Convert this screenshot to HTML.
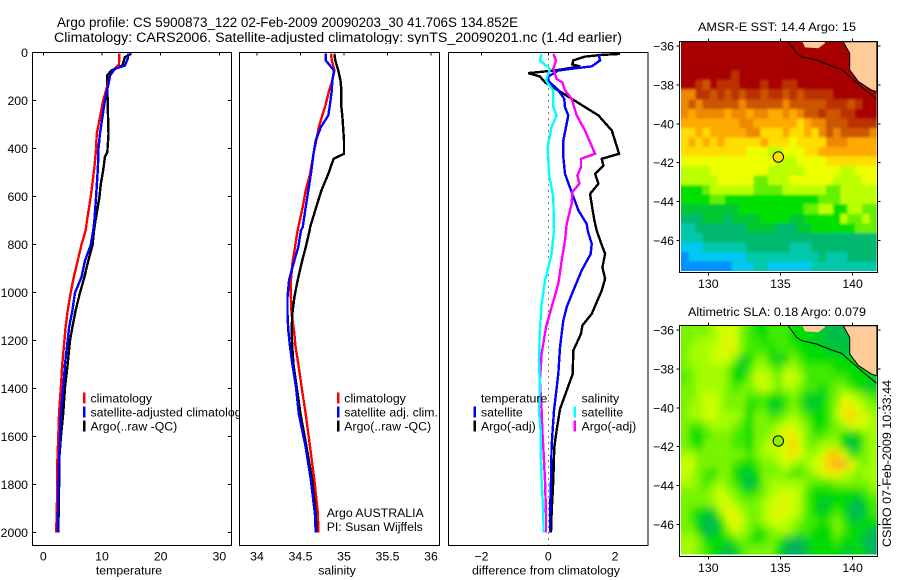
<!DOCTYPE html>
<html>
<head>
<meta charset="utf-8">
<title>Argo profile</title>
<style>
html,body{margin:0;padding:0;background:#fff;}
svg{display:block;}
text{font-family:"Liberation Sans",sans-serif;font-size:12.3px;fill:#000;}
</style>
</head>
<body>
<svg id="chart" xmlns="http://www.w3.org/2000/svg" width="900" height="580" viewBox="0 0 900 580">
<defs>
<filter id="blurSst" filterUnits="userSpaceOnUse" x="650" y="20" width="250" height="270"><feGaussianBlur stdDeviation="1.2 1.4"/></filter>
<filter id="blurSla" filterUnits="userSpaceOnUse" x="650" y="300" width="250" height="270"><feGaussianBlur stdDeviation="3.2 4.2"/></filter>
<clipPath id="clipSst"><rect x="681" y="42" width="195.7" height="229"/></clipPath>
<clipPath id="clipSla"><rect x="681" y="326" width="195.7" height="228.5"/></clipPath>
</defs>
<rect x="0" y="0" width="900" height="580" fill="#fff"/>
<text x="57" y="27" style="font-size:13.5px" textLength="461" lengthAdjust="spacingAndGlyphs">Argo profile: CS 5900873_122 02-Feb-2009 20090203_30 41.706S 134.852E</text>
<text x="54" y="42" style="font-size:13.5px" textLength="568" lengthAdjust="spacingAndGlyphs">Climatology: CARS2006. Satellite-adjusted climatology: synTS_20090201.nc (1.4d earlier)</text>
<text x="129" y="574.5" text-anchor="middle">temperature</text>
<text x="337" y="574.5" text-anchor="middle">salinity</text>
<text x="546" y="574.5" text-anchor="middle" textLength="148" lengthAdjust="spacingAndGlyphs">difference from climatology</text>
<text x="777" y="31" text-anchor="middle" textLength="158" lengthAdjust="spacingAndGlyphs">AMSR-E SST: 14.4 Argo: 15</text>
<text x="777" y="316" text-anchor="middle" textLength="178" lengthAdjust="spacingAndGlyphs">Altimetric SLA: 0.18 Argo: 0.079</text>
<text transform="translate(891,547) rotate(-90)" textLength="167" lengthAdjust="spacingAndGlyphs">CSIRO 07-Feb-2009 10:33:44</text>
<g id="layer"></g>
</svg>
<script>
/* ---- profile data ---- */
const tempTicks = [0, 10, 20, 30];
const salTicks = [34, 34.5, 35, 35.5, 36];
const salTickLabels = ['34', '34.5', '35', '35.5', '36'];
const diffTicks = [-2, 0, 2];
const diffTickLabels = ['\u22122', '0', '2'];
const depthTicks = [0, 200, 400, 600, 800, 1000, 1200, 1400, 1600, 1800, 2000];

const tempClimDepth = [5, 50, 68, 95, 200, 340, 400, 478, 600, 700, 742, 801, 867, 936, 1001, 1075, 1144, 1200, 1297, 1394, 1500, 1600, 1700, 1800, 2000];
const tempClimValue = [12.95, 12.9, 12.2, 11.4, 10.2, 9.1, 9.0, 8.7, 8.1, 7.45, 7.2, 6.5, 5.86, 5.2, 4.66, 4.15, 3.8, 3.6, 3.24, 3.0, 2.7, 2.55, 2.4, 2.4, 2.2];
const tempSatDepth = [5, 25, 54, 68, 95, 130, 200, 340, 400, 478, 600, 700, 742, 801, 867, 936, 1001, 1075, 1144, 1200, 1297, 1394, 1500, 1600, 1700, 1800, 2000];
const tempSatValue = [14.5, 14.4, 13.9, 12.2, 11.4, 11.1, 10.5, 9.65, 9.4, 9.3, 9.0, 8.7, 8.5, 8.1, 7.1, 6.5, 5.4, 4.95, 4.4, 4.15, 3.7, 3.4, 3.0, 2.85, 2.7, 2.55, 2.45];
const tempArgoDepth = [5, 19, 54, 75, 95, 200, 340, 415, 436, 491, 548, 603, 700, 742, 801, 867, 936, 1001, 1075, 1144, 1200, 1297, 1394, 1500, 1600, 1700, 1800, 2000];
const tempArgoValue = [15.0, 13.9, 13.5, 11.6, 10.9, 10.95, 11.1, 10.9, 10.5, 10.2, 9.8, 9.55, 8.9, 8.64, 8.4, 7.67, 7.0, 6.25, 5.5, 4.95, 4.55, 4.15, 3.7, 3.4, 3.0, 2.7, 2.7, 2.55];

const salClimDepth = [5, 33, 75, 117, 158, 228, 262, 311, 367, 422, 506, 575, 644, 728, 742, 811, 881, 950, 1019, 1089, 1158, 1228, 1297, 1394, 1506, 1644, 1783, 1922, 2000];
const salClimValue = [34.85, 34.86, 34.89, 34.865, 34.83, 34.78, 34.75, 34.71, 34.68, 34.65, 34.61, 34.56, 34.525, 34.475, 34.467, 34.437, 34.406, 34.39, 34.39, 34.398, 34.425, 34.444, 34.475, 34.513, 34.56, 34.61, 34.66, 34.7, 34.705];
const salSatDepth = [5, 33, 75, 117, 158, 228, 262, 311, 367, 422, 506, 575, 644, 728, 742, 811, 881, 950, 1019, 1089, 1158, 1228, 1297, 1394, 1506, 1644, 1783, 1922, 2000];
const salSatValue = [34.79, 34.79, 34.885, 34.865, 34.86, 34.835, 34.82, 34.735, 34.675, 34.65, 34.62, 34.59, 34.56, 34.525, 34.505, 34.475, 34.418, 34.368, 34.35, 34.35, 34.36, 34.38, 34.406, 34.448, 34.48, 34.56, 34.62, 34.665, 34.675];
const salArgoDepth = [5, 33, 75, 117, 158, 228, 262, 311, 367, 422, 443, 506, 575, 644, 728, 742, 811, 881, 950, 1019, 1089, 1158, 1228, 1297, 1394, 1506, 1644, 1783, 1922, 2000];
const salArgoValue = [34.89, 34.9, 34.935, 34.96, 34.97, 34.97, 34.98, 34.99, 35.0, 35.0, 34.88, 34.82, 34.74, 34.68, 34.61, 34.605, 34.56, 34.51, 34.467, 34.43, 34.406, 34.398, 34.406, 34.418, 34.456, 34.5, 34.57, 34.635, 34.675, 34.685];

const diffTempArgoDepth = [6, 10, 17, 33, 50, 58, 75, 86, 100, 124, 193, 262, 325, 422, 443, 471, 506, 547, 589, 700, 742, 783, 839, 894, 943, 992, 1089, 1137, 1172, 1242, 1339, 1486, 1575, 1644, 1783, 1922, 2000];
const diffTempArgoValue = [2.15, 1.6, 1.1, 0.75, 0.72, 0.95, 0.2, -0.6, -0.25, -0.1, 0.7, 1.5, 1.9, 2.12, 1.6, 1.65, 1.4, 1.5, 1.25, 1.38, 1.45, 1.55, 1.7, 1.62, 1.7, 1.6, 1.3, 1.02, 0.98, 0.75, 0.73, 0.35, 0.25, 0.18, 0.15, 0.1, 0.08];
const diffTempSatDepth = [6, 33, 58, 64, 75, 100, 117, 158, 193, 228, 262, 367, 436, 506, 582, 658, 714, 742, 797, 839, 908, 992, 1061, 1117, 1228, 1339, 1492, 1575, 1644, 1783, 1922, 2000];
const diffTempSatValue = [1.5, 1.55, 1.3, 0.9, 0.3, 0, 0, 0.3, 0.48, 0.5, 0.6, 0.45, 0.45, 0.5, 0.7, 0.9, 1.15, 1.18, 1.3, 1.27, 1.0, 0.75, 0.55, 0.45, 0.35, 0.3, 0.17, 0.13, 0.1, 0.08, 0.05, 0.05];
const diffSalSatDepth = [6, 33, 68, 117, 158, 228, 262, 311, 394, 506, 603, 742, 839, 950, 1047, 1158, 1283, 1381, 1492, 1575, 1644, 1783, 1922, 2000];
const diffSalSatValue = [-0.2, -0.25, 0.05, -0.07, 0.15, 0.15, 0.25, 0.1, -0.02, 0.02, 0.15, 0.17, 0.1, -0.1, -0.2, -0.25, -0.28, -0.25, -0.28, -0.23, -0.23, -0.2, -0.15, -0.14];
const diffSalArgoDepth = [6, 33, 68, 110, 124, 158, 193, 262, 325, 422, 443, 478, 512, 547, 582, 631, 714, 783, 867, 964, 1061, 1144, 1256, 1367, 1492, 1575, 1644, 1783, 1922, 2000];
const diffSalArgoValue = [0.15, 0.23, 0.15, 0.25, 0.42, 0.5, 0.7, 0.85, 1.1, 1.4, 0.98, 0.98, 0.87, 0.93, 0.72, 0.7, 0.55, 0.5, 0.4, 0.3, 0.1, -0.07, -0.2, -0.25, -0.2, -0.18, -0.15, -0.1, -0.07, -0.07];

/* ---- map data (0.5 degree cells, one character per cell, level index) ---- */
const sstRows = [
"eeeeeeeeeeeeeeeeeeeeeeeeeee",
"eeeeeeeeeeeeeeeeeeeeeeeeeee",
"eeeeeeeeeeeeeeeeeeeeeeeeeee",
"eeeeeeedeeeeeeeeeeeeeeeeeee",
"eedcedddeeedeeddeeeeeeeeeee",
"bbddcdcdcddcddcdcddddeeeeee",
"bcbcccccbcccccbcccccdddcdee",
"babbbbabbabbaababccdccddeee",
"aaaaaaaabbaaaaaa9abbcccdddd",
"99a9aaaaabb999a99a9bcbccccb",
"9a9a9a99999a99989999bbbaaaa",
"9999999998887788899aaaaaaaa",
"888888888888877788889999999",
"777788888888777778888877888",
"777778888866777888888777788",
"555677777766667777776677777",
"555566555555555555566677777",
"444444445555555556677557766",
"333444344445555445555576676",
"223333333444433344555555666",
"222333333333333333333333333",
"111222222333333222333333333",
"011111111222222222232223333",
"000000011122111111222222222"
];
const sstColors = ["#0090ff","#00c8f0","#00c8a8","#00b870","#00c830","#00e000","#66f000","#bbff00","#eeff00","#ffdd00","#ffaa00","#ee8800","#cc5500","#bb3300","#a80000"];

const slaRows = [
"555567775433444333221112333",
"556667875443444333221112333",
"566677875444344433332212333",
"566677752355323543333333333",
"556666532466546654444333333",
"456666533577657764444443332",
"556666545567656654434554322",
"556776555444334542224577654",
"566776555344224542234688765",
"566776665355445654334689876",
"544566654355567765334567776",
"533455544355678875445532356",
"543555544356777975566631256",
"665555555456678876679974456",
"775555543345567656789aa8656",
"765435532235555445678876566",
"665456542125666665444555556",
"555567654345677764333333345",
"555567765556778764322332134",
"543226876556787764323431024",
"542113787556777654434542233",
"553113576534566544333543321",
"665333345434542112333433210",
"665432124555531002333322320"
];
const slaColors = ["#00b068","#00bc48","#00cc28","#00dc00","#40ea00","#78f400","#a4fc00","#ccff00","#eeee00","#ffcc00","#ffaa20"];

const coastLon = [135.54, 136.12, 136.47, 137.5, 138.66, 139.24, 139.93, 140.74, 141.66];
const coastLat = [-35.78, -36.38, -36.55, -36.72, -37.06, -37.2, -37.66, -38.18, -38.74];
const landLon = [139.35, 139.8, 139.8, 140.4, 141.3, 141.66, 141.66];
const landLat = [-35.78, -36.38, -37.23, -37.83, -38.26, -38.35, -35.78];
const islandLon = [136.53, 136.7, 137.62, 138.08, 138.08];
const islandLat = [-35.78, -36.07, -36.12, -35.86, -35.78];
const floatLon = 134.852;
const floatLat = -41.706;
const lonTicks = [130, 135, 140];
const latTicks = [-36, -38, -40, -42, -44, -46];

/* ---- drawing ---- */
const NS = 'http://www.w3.org/2000/svg';
const layer = document.getElementById('layer');
function mk(tag, attrs, parent) {
  const el = document.createElementNS(NS, tag);
  for (const k in attrs) el.setAttribute(k, attrs[k]);
  (parent || layer).appendChild(el);
  return el;
}
const yDepth = d => 52.5 + 0.24 * d;

function seg(x1, y1, x2, y2, parent, name) {
  const el = mk('line', {x1: x1, y1: y1, x2: x2, y2: y2, stroke: '#000', 'stroke-width': 1, 'shape-rendering': 'crispEdges'}, parent);
  
  
  return el;
}
function label(str, x, y, anchor, name, parent) {
  const el = mk('text', {x: x, y: y, 'text-anchor': anchor}, parent);
  el.textContent = str;
  
  
  return el;
}
function profile(depths, values, xf, color, name, parent) {
  const pts = depths.map((d, i) => xf(values[i]).toFixed(1) + ',' + yDepth(d).toFixed(1)).join(' ');
  const el = mk('polyline', {points: pts, fill: 'none', stroke: color, 'stroke-width': 2.4, 'stroke-linejoin': 'miter', 'shape-rendering': 'crispEdges'}, parent);
  
  
}
function frame(x, y, w, h, parent, name) {
  const el = mk('rect', {x: x, y: y, width: w, height: h, fill: 'none', stroke: '#000', 'stroke-width': 1, 'shape-rendering': 'crispEdges'}, parent);
  
  
}
function swatch(x, y, color, parent, name) {
  const el = mk('rect', {x: x, y: y, width: 2.5, height: 11, fill: color}, parent);
  
  
}

const PY0 = 52.5, PY1 = 545.5;

/* temperature panel */
const xT = v => 43.3 + 5.87 * v;
const gT = mk('g', {});


tempTicks.forEach(v => {
  seg(xT(v), PY0, xT(v), PY0 + 3, gT, 'temperature-tick');
  label(String(v), xT(v), 560.5, 'middle', 'temperature-tick-label', gT);
});
depthTicks.forEach(d => {
  seg(32.5, yDepth(d), 36, yDepth(d), gT, 'depth-tick-left');
  seg(228, yDepth(d), 231.5, yDepth(d), gT, 'depth-tick-right');
  label(String(d), 28, yDepth(d) + 4.5, 'end', 'depth-tick-label', gT);
});
profile(tempArgoDepth, tempArgoValue, xT, '#000', 'temperature-argo-line', gT);
profile(tempClimDepth, tempClimValue, xT, '#ff0000', 'temperature-climatology-line', gT);
profile(tempSatDepth, tempSatValue, xT, '#0000ff', 'temperature-satellite-line', gT);
swatch(83, 392.5, '#ff0000', gT, 'legend-swatch-climatology');
swatch(83, 406.5, '#0000ff', gT, 'legend-swatch-satellite');
swatch(83, 420.5, '#000', gT, 'legend-swatch-argo');
label('climatology', 90.5, 402.5, 'start', 'legend-entry-climatology', gT);
label('satellite-adjusted climatology', 90.5, 416.5, 'start', 'legend-entry-satellite', gT);
label('Argo(..raw -QC)', 90.5, 430.5, 'start', 'legend-entry-argo', gT);

/* salinity panel */
const cover = mk('rect', {x: 239, y: 44, width: 201, height: 510, fill: '#fff'});


frame(32.5, PY0, 199, 493, gT, 'temperature-frame');

const xS = v => 257 + 87 * (v - 34);
const gS = mk('g', {});


salTicks.forEach((v, i) => {
  seg(xS(v), PY0, xS(v), PY0 + 3, gS, 'salinity-tick');
  label(salTickLabels[i], xS(v), 560.5, 'middle', 'salinity-tick-label', gS);
});
profile(salClimDepth, salClimValue, xS, '#ff0000', 'salinity-climatology-line', gS);
profile(salArgoDepth, salArgoValue, xS, '#000', 'salinity-argo-line', gS);
profile(salSatDepth, salSatValue, xS, '#0000ff', 'salinity-satellite-line', gS);
frame(239.5, PY0, 200, 493, gS, 'salinity-frame');
swatch(337, 392.5, '#ff0000', gS, 'legend-swatch-climatology');
swatch(337, 406.5, '#0000ff', gS, 'legend-swatch-satellite');
swatch(337, 420.5, '#000', gS, 'legend-swatch-argo');
label('climatology', 344.3, 402.5, 'start', 'legend-entry-climatology', gS);
label('satellite adj. clim.', 344.3, 416.5, 'start', 'legend-entry-satellite', gS);
label('Argo(..raw -QC)', 344.3, 430.5, 'start', 'legend-entry-argo', gS);
label('Argo AUSTRALIA', 326.7, 517, 'start', 'operator-label', gS);
label('PI: Susan Wijffels', 326.7, 531, 'start', 'investigator-label', gS);

/* difference panel */
const xD = v => 548.3 + 33.4 * v;
const gD = mk('g', {});


diffTicks.forEach((v, i) => {
  seg(xD(v), PY0, xD(v), PY0 + 3, gD, 'difference-tick');
  label(diffTickLabels[i], xD(v), 560.5, 'middle', 'difference-tick-label', gD);
});
const zero = mk('line', {x1: xD(0), y1: PY0, x2: xD(0), y2: PY1, stroke: '#000', 'stroke-width': 1, 'stroke-dasharray': '1 5', 'shape-rendering': 'crispEdges'}, gD);


profile(diffTempArgoDepth, diffTempArgoValue, xD, '#000', 'difference-temperature-argo-line', gD);
profile(diffTempSatDepth, diffTempSatValue, xD, '#0000ff', 'difference-temperature-satellite-line', gD);
profile(diffSalArgoDepth, diffSalArgoValue, xD, '#ff00ff', 'difference-salinity-argo-line', gD);
profile(diffSalSatDepth, diffSalSatValue, xD, '#00ffff', 'difference-salinity-satellite-line', gD);
frame(448.5, PY0, 199.5, 493, gD, 'difference-frame');
label('temperature', 481, 402.5, 'start', 'legend-heading-temperature', gD);
label('satellite', 481, 416.5, 'start', 'legend-entry-temperature-satellite', gD);
label('Argo(-adj)', 481, 430.5, 'start', 'legend-entry-temperature-argo', gD);
label('salinity', 581.5, 402.5, 'start', 'legend-heading-salinity', gD);
label('satellite', 581.5, 416.5, 'start', 'legend-entry-salinity-satellite', gD);
label('Argo(-adj)', 581.5, 430.5, 'start', 'legend-entry-salinity-argo', gD);
swatch(473.5, 406.5, '#0000ff', gD, 'legend-swatch-temperature-satellite');
swatch(473.5, 420.5, '#000', gD, 'legend-swatch-temperature-argo');
swatch(573.5, 406.5, '#00ffff', gD, 'legend-swatch-salinity-satellite');
swatch(573.5, 420.5, '#ff00ff', gD, 'legend-swatch-salinity-argo');

/* maps */
function drawMap(rows, colors, cfg) {
  const g = mk('g', {});
  
  
  const xLon = v => 708.3 + 14.43 * (v - 130);
  const yLat = v => cfg.y36 + 19.45 * (-36 - v);
  const nr = rows.length, nc = rows[0].length;
  const cw = (876.7 - 681) / nc, ch = (cfg.imgBottom - cfg.imgTop) / nr;
  const clip = mk('g', {'clip-path': 'url(#' + cfg.clip + ')'}, g);
  
  
  const cells = mk('g', {filter: 'url(#' + cfg.blur + ')'}, clip);
  
  
  const pad = 14;
  rows.forEach((row, r) => {
    for (let c = 0; c < nc; c++) {
      const x0 = 681 + c * cw - (c === 0 ? pad : 0);
      const x1 = 681 + (c + 1) * cw + (c === nc - 1 ? pad : 0.4);
      const y0 = cfg.imgTop + r * ch - (r === 0 ? pad : 0);
      const y1 = cfg.imgTop + (r + 1) * ch + (r === nr - 1 ? pad : 0.4);
      const cell = mk('rect', {
        x: x0.toFixed(2), y: y0.toFixed(2),
        width: (x1 - x0).toFixed(2), height: (y1 - y0).toFixed(2),
        fill: colors[parseInt(row[c], 16)], 'shape-rendering': 'crispEdges'
      }, cells);
      
      
    }
  });
  const poly = (lon, lat) => lon.map((v, i) => xLon(v).toFixed(1) + ',' + yLat(lat[i]).toFixed(1)).join(' ');
  const land = mk('polygon', {points: poly(landLon, landLat), fill: '#ffcc99', stroke: '#000', 'stroke-width': 1}, clip);
  
  
  const isl = mk('polygon', {points: poly(islandLon, islandLat), fill: '#ffcc99', stroke: 'none'}, clip);
  
  
  const coast = mk('polyline', {points: poly(coastLon, coastLat), fill: 'none', stroke: '#000', 'stroke-width': 1}, clip);
  
  
  const mark = mk('circle', {cx: xLon(floatLon), cy: yLat(floatLat), r: 5.2, fill: cfg.markFill, stroke: '#000', 'stroke-width': 1}, g);
  
  
  frame(679.5, cfg.top, 198, cfg.h, g, 'map-frame');
  lonTicks.forEach(v => {
    seg(xLon(v), cfg.top - 3, xLon(v), cfg.top, g, 'longitude-tick');
    seg(xLon(v), cfg.top + cfg.h, xLon(v), cfg.top + cfg.h + 3, g, 'longitude-tick');
    label(String(v), xLon(v), cfg.top + cfg.h + 15.5, 'middle', 'longitude-tick-label', g);
  });
  latTicks.forEach(v => {
    seg(676.5, yLat(v), 679.5, yLat(v), g, 'latitude-tick');
    seg(877.5, yLat(v), 880.5, yLat(v), g, 'latitude-tick');
    label(String(v).replace('-', '\u2212'), 674, yLat(v) + 4.5, 'end', 'latitude-tick-label', g);
  });
}
drawMap(sstRows, sstColors, {name: 'sst-map', y36: 46, top: 41.5, h: 231, imgTop: 42, imgBottom: 271, markFill: '#ffdd00', clip: 'clipSst', blur: 'blurSst'});
drawMap(slaRows, slaColors, {name: 'sla-map', y36: 330, top: 325.5, h: 231, imgTop: 326, imgBottom: 554.5, markFill: '#90f000', clip: 'clipSla', blur: 'blurSla'});
</script>
</body>
</html>
